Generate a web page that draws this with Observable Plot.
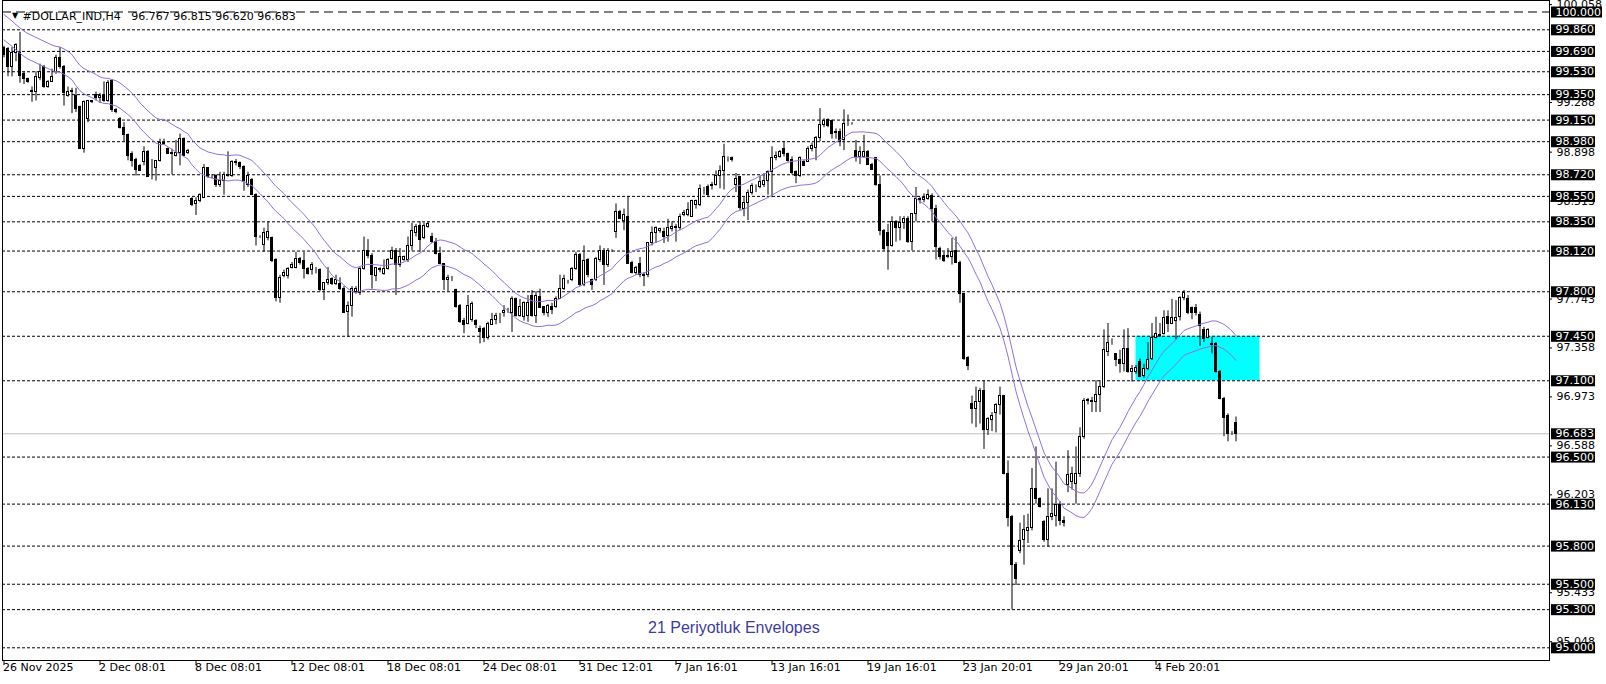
<!DOCTYPE html>
<html><head><meta charset="utf-8">
<script src="https://cdn.jsdelivr.net/npm/d3@7"></script>
<script src="https://cdn.jsdelivr.net/npm/@observablehq/plot@0.6"></script>
<style>html,body{margin:0;padding:0;background:#fff;overflow:hidden;} #chart{width:1606px;height:684px;}</style>
</head><body><div id="chart"></div>
<script>
// ---- OHLC data (H4 bars) ----
const open = [
99.72,99.71,99.57,99.68,99.68,99.51,99.47,99.375,99.37,99.48,
99.57,99.41,99.45,99.53,99.64,99.57,99.34,99.37,99.34,99.25,
98.92,99.16,99.29,99.35,99.32,99.34,99.30,99.46,99.23,99.16,
99.09,99.03,98.88,98.84,98.79,98.82,98.90,98.78,98.77,98.83,
98.96,98.92,98.89,98.87,98.89,99.00,98.89,98.53,98.49,98.51,
98.54,98.77,98.71,98.71,98.64,98.67,98.71,98.71,98.81,98.81,
98.78,98.64,98.68,98.56,98.23,98.17,98.22,98.22,98.05,97.75,
97.92,97.92,97.99,97.99,98.06,98.04,97.98,97.97,97.98,97.97,
97.81,97.87,97.90,97.86,97.86,97.82,97.64,97.69,97.80,97.79,
97.98,98.12,98.08,97.92,97.97,97.94,97.98,98.06,98.12,98.01,
98.05,98.05,98.16,98.26,98.32,98.22,98.31,98.23,98.19,98.10,
98.02,97.89,97.90,97.81,97.69,97.57,97.55,97.58,97.57,97.51,
97.51,97.44,97.54,97.58,97.62,97.63,97.65,97.63,97.74,97.61,
97.60,97.61,97.77,97.61,97.76,97.68,97.63,97.68,97.68,97.74,
97.82,97.88,97.89,97.98,98.09,97.85,98.05,97.89,97.89,98.05,
98.12,98.01,98.12,98.27,98.43,98.36,98.39,98.03,97.95,98.02,
97.92,97.93,98.18,98.26,98.28,98.27,98.24,98.29,98.30,98.30,
98.40,98.40,98.39,98.48,98.48,98.61,98.62,98.63,98.64,98.71,
98.75,98.85,98.85,98.64,98.70,98.45,98.50,98.58,98.62,98.62,
98.64,98.67,98.74,98.85,98.86,98.92,98.88,98.84,98.74,98.71,
98.82,98.82,98.92,98.93,99.01,99.11,99.15,99.14,99.05,99.06,
98.99,99.12,99.12,98.91,98.86,98.86,98.90,98.80,98.85,98.64,
98.28,98.26,98.16,98.35,98.30,98.34,98.37,98.19,98.41,98.53,
98.52,98.53,98.55,98.45,98.14,98.08,98.08,98.07,98.12,98.03,
97.78,97.28,96.92,96.88,96.93,97.02,96.71,96.79,96.85,96.91,
96.98,96.37,96.03,95.65,95.76,95.85,95.92,95.94,96.25,96.17,
95.99,95.85,96.03,96.04,96.12,96.00,96.28,96.30,96.29,96.37,
96.66,96.94,96.93,96.93,96.99,97.05,97.33,97.40,97.31,97.26,
97.23,97.35,97.17,97.17,97.25,97.14,97.19,97.27,97.44,97.45,
97.47,97.60,97.55,97.57,97.60,97.75,97.74,97.67,97.67,97.62,
97.50,97.44,97.38,97.39,97.17,96.96,96.82,96.68,96.767
];
const high = [
99.73,99.72,99.72,99.75,99.84,99.53,99.48,99.41,99.53,99.59,
99.58,99.46,99.55,99.66,99.72,99.58,99.41,99.40,99.40,99.26,
99.30,99.30,99.30,99.37,99.36,99.45,99.46,99.47,99.24,99.17,
99.13,99.04,98.90,98.85,98.80,98.94,98.91,98.84,98.83,99.00,
99.00,98.93,98.92,98.99,99.04,99.01,98.92,98.54,98.54,98.57,
98.80,98.77,98.72,98.72,98.74,98.74,98.90,98.83,98.84,98.82,
98.79,98.74,98.69,98.57,98.24,98.30,98.35,98.23,98.06,97.93,
97.97,97.99,98.03,98.11,98.07,98.11,97.99,98.03,97.99,97.98,
97.87,97.99,97.91,97.93,97.91,97.84,97.72,97.84,97.84,97.99,
98.23,98.21,98.10,97.99,97.99,98.05,98.06,98.15,98.14,98.14,
98.08,98.23,98.34,98.33,98.35,98.34,98.35,98.26,98.22,98.15,
98.02,97.93,97.92,97.82,97.70,97.59,97.77,97.72,97.58,97.53,
97.52,97.56,97.63,97.63,97.63,97.69,97.67,97.76,97.75,97.74,
97.72,97.77,97.81,97.80,97.82,97.68,97.70,97.71,97.76,97.93,
97.93,97.89,97.99,98.11,98.10,98.16,98.06,97.90,98.07,98.16,
98.14,98.14,98.13,98.49,98.44,98.45,98.55,98.04,98.00,98.07,
97.95,98.18,98.31,98.31,98.30,98.30,98.37,98.35,98.33,98.41,
98.44,98.50,98.52,98.52,98.64,98.62,98.64,98.66,98.75,98.79,
98.96,98.86,98.86,98.73,98.70,98.54,98.60,98.65,98.64,98.71,
98.73,98.75,98.94,98.90,98.91,98.98,98.89,98.86,98.75,98.86,
98.83,98.94,98.97,99.02,99.24,99.16,99.16,99.15,99.08,99.08,
99.23,99.19,99.13,98.99,98.94,99.03,98.91,98.81,98.85,98.71,
98.29,98.33,98.39,98.36,98.39,98.39,98.39,98.41,98.62,98.54,
98.57,98.60,98.57,98.48,98.15,98.11,98.14,98.22,98.23,98.04,
97.78,97.29,96.98,97.05,97.04,97.10,96.81,96.85,96.92,97.05,
96.98,96.47,96.04,95.67,95.98,96.04,96.05,96.41,96.58,96.18,
96.00,96.25,96.25,96.46,96.15,96.03,96.55,96.42,96.58,96.73,
96.96,96.96,96.97,97.10,97.10,97.50,97.55,97.43,97.31,97.34,
97.50,97.51,97.22,97.22,97.27,97.23,97.40,97.55,97.60,97.55,
97.65,97.65,97.74,97.73,97.76,97.81,97.77,97.68,97.70,97.64,
97.52,97.51,97.44,97.40,97.18,96.97,96.84,96.70,96.815
];
const low = [
99.64,99.49,99.49,99.61,99.44,99.43,99.44,99.29,99.30,99.46,
99.40,99.40,99.45,99.51,99.55,99.26,99.33,99.20,99.21,98.92,
98.89,99.13,99.28,99.30,99.28,99.29,99.29,99.21,99.20,99.08,
98.98,98.83,98.78,98.71,98.75,98.79,98.70,98.68,98.67,98.82,
98.95,98.88,98.72,98.86,98.79,98.87,98.88,98.47,98.40,98.50,
98.54,98.69,98.69,98.62,98.62,98.56,98.70,98.70,98.79,98.76,
98.59,98.62,98.56,98.16,98.22,98.11,98.20,98.03,97.72,97.71,
97.91,97.90,97.98,97.98,98.01,97.90,97.93,97.93,97.94,97.80,
97.73,97.85,97.85,97.85,97.81,97.63,97.44,97.60,97.78,97.77,
97.97,98.06,97.82,97.88,97.95,97.93,97.97,98.05,97.77,97.99,
98.04,98.03,98.12,98.23,98.11,98.21,98.30,98.18,98.09,98.02,
97.81,97.80,97.88,97.67,97.55,97.47,97.54,97.56,97.51,97.39,
97.40,97.42,97.54,97.54,97.55,97.60,97.63,97.48,97.60,97.60,
97.57,97.56,97.60,97.55,97.67,97.61,97.60,97.62,97.67,97.74,
97.81,97.86,97.88,97.97,97.84,97.84,97.91,97.81,97.88,98.03,
97.85,97.99,98.11,98.22,98.37,98.28,98.02,97.94,97.93,97.91,
97.84,97.91,98.16,98.18,98.26,98.18,98.19,98.27,98.19,98.28,
98.39,98.39,98.39,98.45,98.47,98.56,98.54,98.60,98.63,98.61,
98.60,98.82,98.82,98.58,98.44,98.39,98.36,98.56,98.58,98.61,
98.62,98.56,98.54,98.83,98.85,98.86,98.82,98.72,98.65,98.70,
98.79,98.82,98.90,98.83,98.98,99.09,99.09,99.00,99.00,98.94,
98.91,99.10,99.11,98.82,98.80,98.85,98.80,98.76,98.63,98.24,
98.12,97.97,98.15,98.19,98.20,98.29,98.18,98.12,98.35,98.49,
98.50,98.52,98.35,98.05,98.05,98.03,98.06,98.01,98.03,97.71,
97.26,97.18,96.76,96.73,96.76,96.56,96.67,96.70,96.69,96.83,
96.36,95.95,95.30,95.49,95.74,95.65,95.82,95.92,96.13,96.10,
95.83,95.79,96.00,95.95,95.96,95.95,96.22,96.24,96.13,96.34,
96.64,96.91,96.85,96.85,96.85,97.04,97.29,97.38,97.21,97.16,
97.17,97.16,97.09,97.15,97.13,97.12,97.18,97.26,97.43,97.44,
97.46,97.48,97.55,97.42,97.57,97.73,97.62,97.58,97.61,97.37,
97.40,97.43,97.31,97.16,96.95,96.66,96.62,96.67,96.620
];
const close = [
99.66,99.57,99.68,99.74,99.50,99.47,99.45,99.37,99.49,99.53,
99.41,99.45,99.49,99.64,99.57,99.36,99.37,99.38,99.24,98.92,
99.29,99.30,99.30,99.32,99.34,99.30,99.44,99.23,99.21,99.09,
99.03,98.87,98.83,98.76,98.75,98.90,98.70,98.78,98.83,98.97,
98.97,98.88,98.88,98.89,99.00,98.87,98.91,98.48,98.51,98.56,
98.77,98.70,98.71,98.64,98.67,98.72,98.72,98.82,98.82,98.78,
98.67,98.71,98.56,98.23,98.23,98.26,98.27,98.04,97.75,97.91,
97.95,97.98,98.01,98.06,98.03,97.98,97.94,98.01,97.98,97.81,
97.87,97.89,97.86,97.89,97.82,97.63,97.69,97.82,97.82,97.98,
98.12,98.08,97.93,97.99,97.98,97.98,98.05,98.12,98.01,98.07,
98.07,98.16,98.28,98.31,98.21,98.32,98.33,98.19,98.10,98.02,
97.89,97.91,97.90,97.68,97.56,97.54,97.69,97.70,97.54,97.48,
97.44,97.55,97.58,97.61,97.62,97.65,97.65,97.74,97.61,97.68,
97.71,97.71,97.61,97.77,97.67,97.63,97.69,97.66,97.74,97.82,
97.90,97.88,97.98,98.09,97.85,98.04,97.93,97.85,98.06,98.12,
98.01,98.12,98.12,98.43,98.37,98.40,98.02,97.95,97.99,97.93,
97.93,98.18,98.26,98.30,98.29,98.23,98.30,98.31,98.31,98.39,
98.42,98.44,98.51,98.51,98.61,98.61,98.56,98.64,98.71,98.75,
98.86,98.85,98.84,98.69,98.46,98.50,98.58,98.63,98.62,98.66,
98.67,98.74,98.85,98.87,98.90,98.88,98.83,98.73,98.71,98.85,
98.79,98.92,98.95,99.01,99.11,99.14,99.10,99.04,99.06,98.98,
99.12,99.12,99.12,98.86,98.90,98.90,98.80,98.76,98.64,98.28,
98.14,98.16,98.35,98.30,98.34,98.37,98.19,98.41,98.53,98.52,
98.54,98.56,98.45,98.15,98.07,98.04,98.07,98.11,98.03,97.78,
97.27,97.22,96.88,96.93,97.02,96.71,96.80,96.82,96.91,96.98,
96.37,96.02,95.65,95.54,95.84,95.93,95.94,96.25,96.17,96.11,
95.85,96.03,96.05,96.12,96.00,95.98,96.36,96.37,96.37,96.66,
96.94,96.95,96.94,96.99,97.05,97.34,97.40,97.40,97.26,97.23,
97.35,97.17,97.19,97.20,97.13,97.19,97.26,97.44,97.47,97.46,
97.59,97.55,97.59,97.59,97.75,97.79,97.63,97.63,97.63,97.53,
97.43,97.50,97.39,97.17,96.96,96.81,96.68,96.68,96.683
];
// envelope middle line for the first 20 bars (history before the window)
const maHead = [99.88,99.855,99.83,99.80,99.775,99.75,99.73,99.715,99.70,99.685,
                99.67,99.655,99.64,99.63,99.625,99.61,99.59,99.565,99.52,99.48];
const envPeriod = 21;
const envDeviationPct = 0.1;

// ---- horizontal levels and scale ----
const majorLevel = 100.000;
const levels = [99.860,99.690,99.530,99.350,99.150,98.980,98.720,98.550,98.350,98.120,
                97.800,97.450,97.100,96.500,96.130,95.800,95.500,95.300,95.000];
const bidPrice = 96.683;
const scaleTickLabels = ["100.058","99.288","98.898","98.513","97.743",
                         "97.358","96.973","96.588","96.203","95.433","95.048"];
const timeLabels = ["26 Nov 2025","2 Dec 08:01","8 Dec 08:01","12 Dec 08:01","18 Dec 08:01",
                    "24 Dec 08:01","31 Dec 12:01","7 Jan 16:01","13 Jan 16:01","19 Jan 16:01",
                    "23 Jan 20:01","29 Jan 20:01","4 Feb 20:01"];
const timeLabelBars = [0,24,48,72,96,120,144,168,192,216,240,264,288];
const zone = {fromBar: 283, toBar: 314, low: 97.10, high: 97.45};
const titleText = "#DOLLAR_IND,H4\u00a0\u00a0\u00a096.767 96.815 96.620 96.683";
const note = {bar: 161, price: 95.16, text: "21 Periyotluk Envelopes"};

// ---- build tables ----
const candles = open.map((o, i) => ({
  i, o, c: close[i],
  h: Math.max(high[i], o, close[i]),
  l: Math.min(low[i], o, close[i])
}));
const env = candles.map((d, i) => {
  const m = i < envPeriod - 1 ? maHead[i] : d3.mean(close.slice(i - envPeriod + 1, i + 1));
  return {i, upper: m * (1 + envDeviationPct / 100), lower: m * (1 - envDeviationPct / 100)};
});
const bull = candles.filter(d => d.c >= d.o);
const bear = candles.filter(d => d.c < d.o);
const timeTicks = timeLabelBars.map((b, k) => ({bar: b, label: timeLabels[k]}));
const boxed = [majorLevel, ...levels, bidPrice];
const envColor = "#9370db";

const chart = Plot.plot({
  width: 1606, height: 684,
  marginLeft: 2, marginRight: 57, marginTop: 0, marginBottom: 24,
  x: {type: "linear", domain: [-0.375, 386.375], axis: null},
  y: {type: "linear", domain: [94.9002, 100.0904], axis: null},
  style: {fontFamily: "'DejaVu Sans', sans-serif", fontSize: "11px", background: "#fff", color: "#000", overflow: "visible"},
  marks: [
    Plot.rect([zone], {x1: "fromBar", x2: "toBar", y1: "low", y2: "high", fill: "#00ffff"}),
    Plot.ruleY(levels, {y: d => d, stroke: "#000", strokeDasharray: "3,2"}),
    Plot.ruleY([majorLevel], {y: d => d, stroke: "#000", strokeDasharray: "9,5"}),
    Plot.ruleY([bidPrice], {y: d => d, stroke: "#c0c0c0"}),
    Plot.ruleX(candles, {x: "i", y1: "l", y2: "h", stroke: "#000"}),
    Plot.rect(bear, {x1: d => d.i - 0.25, x2: d => d.i + 0.25, y1: "c", y2: "o", fill: "#000", stroke: "#000", shapeRendering: "crispEdges"}),
    Plot.rect(bull, {x1: d => d.i - 0.25, x2: d => d.i + 0.25, y1: "o", y2: "c", fill: "#fff", stroke: "#000", shapeRendering: "crispEdges"}),
    Plot.line(env, {x: "i", y: "upper", stroke: envColor, strokeWidth: 1}),
    Plot.line(env, {x: "i", y: "lower", stroke: envColor, strokeWidth: 1}),
    Plot.frame({stroke: "#000"}),
    // time axis
    Plot.ruleX(timeTicks, {x: "bar", stroke: "#000", insetTop: 660, insetBottom: -5}),
    Plot.text(timeTicks, {x: "bar", text: "label", frameAnchor: "bottom", dy: 10, dx: -1, textAnchor: "start", fill: "#000"}),
    // price scale
    Plot.ruleY(scaleTickLabels, {y: d => +d, stroke: "#000", insetLeft: 1547, insetRight: -3}),
    Plot.text(scaleTickLabels, {y: d => +d, text: d => d, frameAnchor: "right", dx: 7, textAnchor: "start", fill: "#000"}),
    Plot.text(boxed, {y: d => d, text: d => d.toFixed(3), frameAnchor: "right", dx: 6, textAnchor: "start", fill: "#ffffff"}),
    // title + note
    Plot.text(["\u25bc"], {text: d => d, frameAnchor: "top-left", dx: 9.5, dy: 12, fontSize: 8, fill: "#000"}),
    Plot.text([titleText], {text: d => d, frameAnchor: "top-left", dx: 20, dy: 12, textAnchor: "start", fill: "#000"}),
    Plot.text([note], {x: "bar", y: "price", text: "text", textAnchor: "start", fill: "#3c3c9e", fontSize: 16, fontFamily: "'Liberation Sans', Arial, sans-serif"})
  ]
});
document.getElementById("chart").appendChild(chart);

// black boxes behind the level price labels
const svgRect = chart.getBoundingClientRect();
const whiteGroups = [...chart.querySelectorAll("g")].filter(g =>
  g.getAttribute("aria-label") === "text" && (g.getAttribute("fill") || "").toLowerCase() === "#ffffff");
for (const g of whiteGroups) {
  const bg = document.createElementNS("http://www.w3.org/2000/svg", "g");
  for (const t of g.querySelectorAll("text")) {
    const r = t.getBoundingClientRect();
    const cy = (r.top + r.bottom) / 2 - svgRect.top;
    const rect = document.createElementNS("http://www.w3.org/2000/svg", "rect");
    const x0 = 1551;
    rect.setAttribute("x", x0);
    rect.setAttribute("y", cy - 5.5);
    rect.setAttribute("width", Math.max(10, r.right - svgRect.left + 1 - x0));
    rect.setAttribute("height", 11);
    rect.setAttribute("fill", "#000");
    bg.appendChild(rect);
  }
  g.parentNode.insertBefore(bg, g);
}
</script>
</body></html>
